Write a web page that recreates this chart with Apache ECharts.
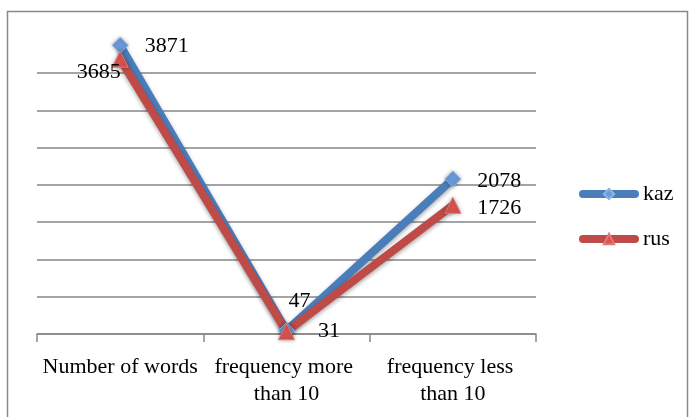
<!DOCTYPE html>
<html>
<head>
<meta charset="utf-8">
<script src="https://cdn.jsdelivr.net/npm/echarts@6/dist/echarts.min.js"></script>
<style>html,body{margin:0;padding:0;background:#fff}#c{width:690px;height:417px}</style>
</head>
<body>
<div id="c"></div>
<script>
var categories = ["Number of words", "frequency more than 10", "frequency less than 10"];
var kazValues = [3871, 47, 2078];
var rusValues = [3685, 31, 1726];
var seriesNames = ["kaz", "rus"];

var FONT = "Liberation Serif";
var chart = echarts.init(document.getElementById('c'), null, {renderer: 'canvas'});

function lbl(pos, offset, dist) {
  return {show: true, position: pos, offset: offset, distance: dist,
          color: '#000', fontFamily: FONT, fontSize: 22};
}

var kazData = kazValues.map(function (v, i) {
  var l = [lbl('right', [0, 1], 16), lbl('top', [13, -5], 5), lbl('right', [0, 2], 16)][i];
  return {value: v, label: l};
});
var rusData = rusValues.map(function (v, i) {
  var l = [lbl('left', [14, 13], 5), lbl('right', [18, 0], 5), lbl('right', [0, 3], 16)][i];
  return {value: v, label: l};
});

chart.setOption({
  animation: false,
  graphic: [{type: 'rect', shape: {x: 7.5, y: 11.5, width: 680, height: 420},
    style: {fill: 'none', stroke: '#898989', lineWidth: 1.5}, silent: true}],
  grid: {left: 37, right: 154, top: 35.7, bottom: 83},
  legend: {
    orient: 'vertical', left: 579, top: 183, padding: 0, itemWidth: 52, itemHeight: 13, itemGap: 23,
    textStyle: {fontFamily: FONT, fontSize: 22, color: '#000', padding: [0, 0, 0, 3]},
    lineStyle: {width: 8, cap: 'round'},
    data: seriesNames
  },
  xAxis: {
    type: 'category', data: categories, boundaryGap: true,
    axisLine: {lineStyle: {color: '#868686', width: 1.5}},
    axisTick: {show: true, length: 8, lineStyle: {color: '#868686', width: 1.5}},
    axisLabel: {color: '#000', fontFamily: FONT, fontSize: 22, lineHeight: 27, margin: 20,
                width: 160, overflow: 'break', interval: 0}
  },
  yAxis: {
    type: 'value', min: 0, max: 4000, interval: 500,
    axisLabel: {show: false}, axisLine: {show: false}, axisTick: {show: false},
    splitLine: {show: true, showMaxLine: false, lineStyle: {color: '#868686', width: 1.5}}
  },
  series: [
    {name: seriesNames[0], type: 'line', data: kazData, symbol: 'diamond', symbolSize: 16,
     lineStyle: {color: '#4A7EBB', width: 8, shadowBlur: 4, shadowColor: 'rgba(0,0,0,0.35)', shadowOffsetY: 2},
     itemStyle: {color: '#6A9AD8', borderColor: '#8FB4E3', borderWidth: 1, shadowBlur: 4, shadowColor: 'rgba(0,0,0,0.3)'}},
    {name: seriesNames[1], type: 'line', data: rusData, symbol: 'triangle', symbolSize: 16,
     lineStyle: {color: '#BE4B48', width: 8, shadowBlur: 4, shadowColor: 'rgba(0,0,0,0.35)', shadowOffsetY: 2},
     itemStyle: {color: '#D9534F', borderColor: '#E07A77', borderWidth: 1, shadowBlur: 4, shadowColor: 'rgba(0,0,0,0.3)'}}
  ]
});
</script>
</body>
</html>
